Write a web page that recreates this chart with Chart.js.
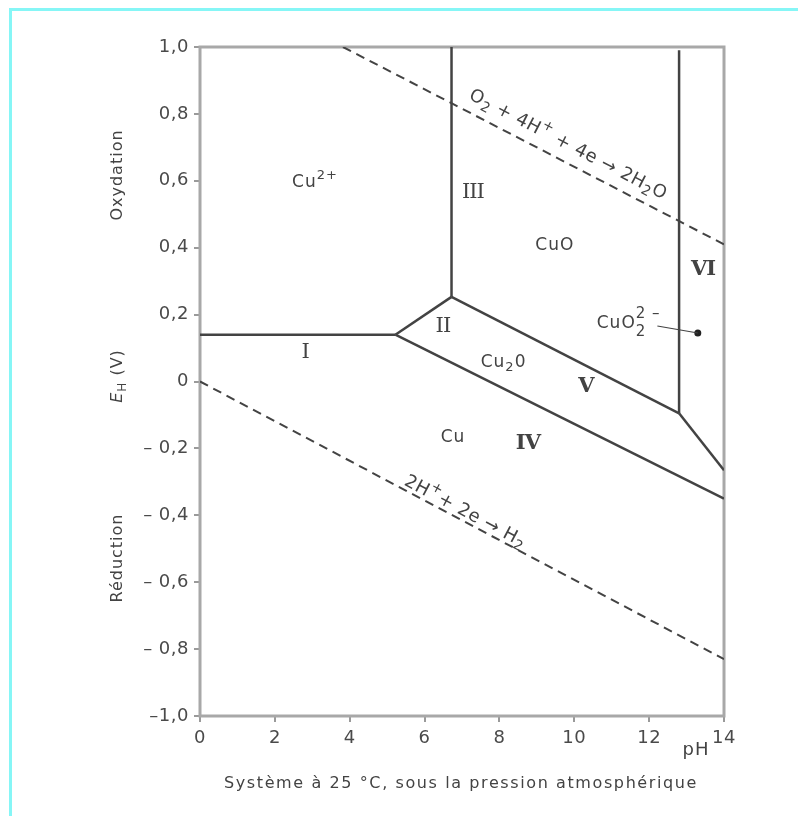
<!DOCTYPE html>
<html>
<head>
<meta charset="utf-8">
<script src="https://cdn.jsdelivr.net/npm/chart.js@4.4.0/dist/chart.umd.min.js"></script>
<style>
  html, body { margin: 0; padding: 0; background: #fff; }
  canvas { display: block; }
</style>
</head>
<body>
<canvas id="pourbaix" width="798" height="816"></canvas>
<script>
// Cu / H2O Pourbaix diagram - points are [pH, E (V)]

const xTicks = [0, 2, 4, 6, 8, 10, 12, 14];
const yTicks = [-1, -0.8, -0.6, -0.4, -0.2, 0, 0.2, 0.4, 0.6, 0.8, 1];
const yTickLabels = ['–1,0', '– 0,8', '– 0,6', '– 0,4', '– 0,2', '0', '0,2', '0,4', '0,6', '0,8', '1,0'];

const lineI = [[0, 0.14], [5.22, 0.14]];
const lineII = [[5.22, 0.14], [6.72, 0.253]];
const lineIII = [[6.72, 0.253], [6.72, 1.0]];
const lineIV = [[5.22, 0.14], [14, -0.35]];
const lineV = [[6.72, 0.253], [12.8, -0.095]];
const lineVI = [[12.8, -0.095], [12.8, 0.99]];
const lineVIlow = [[12.8, -0.095], [14, -0.265]];
const oxygenLine = [[3.82, 1.0], [14, 0.41]];
const hydrogenLine = [[0, 0], [14, -0.83]];
const cuo2Point = [[13.3, 0.145]];
const cuo2Leader = [[12.22, 0.166], [13.3, 0.145]];

// text annotations, placed in data coordinates
const speciesLabels = [
    { parts: [['Cu'], ['2+', 'sup']], at: [2.46, 0.596], align: 'left' },
    { parts: [['CuO']], at: [9.48, 0.405] },
    { parts: [['Cu'], ['2', 'sub'], ['0']], at: [7.5, 0.058], align: 'left' },
    { parts: [['Cu']], at: [6.76, -0.169] }
];
const romanLabels = [
    { text: 'I', at: [2.81, 0.088], bold: false },
    { text: 'II', at: [6.49, 0.163], bold: false },
    { text: 'III', at: [7.29, 0.564], bold: false },
    { text: 'IV', at: [8.76, -0.184], bold: true },
    { text: 'V', at: [10.31, -0.016], bold: true },
    { text: 'VI', at: [13.44, 0.336], bold: true }
];

const INK = '#434343';
const FONT = '"DejaVu Sans", sans-serif';

function toXY(pts) {
    return pts.map(p => ({ x: p[0], y: p[1] }));
}

function boundary(pts) {
    return {
        data: toXY(pts), showLine: true, pointRadius: 0,
        borderColor: INK, borderWidth: 2.5
    };
}

function dashed(pts) {
    return {
        data: toXY(pts), showLine: true, pointRadius: 0,
        borderColor: INK, borderWidth: 2, borderDash: [9, 6]
    };
}

// draw text made of pieces, some as subscript / superscript
function drawRich(ctx, parts, x, y, size, align) {
    const small = Math.round(size * 0.75);
    const fontOf = (m, st) => (st === 'i' ? 'italic ' : '') + (m ? small : size) + 'px ' + FONT;
    const widths = parts.map(([t, m, st]) => {
        ctx.font = fontOf(m, st);
        return ctx.measureText(t).width;
    });
    const total = widths.reduce((a, b) => a + b, 0);
    let cx = align === 'left' ? x : x - total / 2;
    ctx.textAlign = 'left';
    ctx.textBaseline = 'middle';
    parts.forEach(([t, m, st], i) => {
        ctx.font = fontOf(m, st);
        const dy = m === 'sub' ? size * 0.3 : m === 'sup' ? -size * 0.4 : 0;
        ctx.fillText(t, cx, y + dy);
        cx += widths[i];
    });
}

const decor = {
    id: 'decor',
    beforeDraw(chart) {
        chart.ctx.letterSpacing = '0.5px';
    },
    beforeDatasetsDraw(chart) {
        const { ctx, chartArea: a } = chart;
        ctx.save();
        ctx.strokeStyle = '#a8a8a8';
        ctx.lineWidth = 3;
        ctx.strokeRect(a.left, a.top, a.right - a.left, a.bottom - a.top);
        ctx.restore();
    },
    afterDraw(chart) {
        const { ctx } = chart;
        const xs = chart.scales.x, ys = chart.scales.y;
        const px = p => [xs.getPixelForValue(p[0]), ys.getPixelForValue(p[1])];

        ctx.save();
        ctx.letterSpacing = '1px';
        ctx.fillStyle = INK;

        // page border
        ctx.strokeStyle = '#86f6f6';
        ctx.lineWidth = 3;
        ctx.strokeRect(10.5, 9.5, 900, 900);

        // species
        speciesLabels.forEach(l => {
            const [x, y] = px(l.at);
            drawRich(ctx, l.parts, x, y, 17, l.align);
        });

        // CuO2 2- with stacked indices
        {
            const [x, y] = px([10.6, 0.172]);
            ctx.font = '17px ' + FONT;
            ctx.textAlign = 'left';
            ctx.textBaseline = 'middle';
            ctx.fillText('CuO', x, y);
            const w = ctx.measureText('CuO').width;
            ctx.font = '15px ' + FONT;
            ctx.fillText('2', x + w, y + 8);
            ctx.fillText('2 –', x + w, y - 10);
        }

        // roman numerals
        ctx.letterSpacing = '-1px';
        ctx.textAlign = 'center';
        ctx.textBaseline = 'middle';
        romanLabels.forEach(l => {
            const [x, y] = px(l.at);
            ctx.font = (l.bold ? 'bold ' : '') + '21px "DejaVu Serif", serif';
            ctx.fillText(l.text, x, y);
        });
        ctx.letterSpacing = '0.5px';

        // reactions along the dashed lines
        const along = (line, at, parts) => {
            const p0 = px(line[0]), p1 = px(line[1]);
            const ang = Math.atan2(p1[1] - p0[1], p1[0] - p0[0]);
            const [x, y] = px(at);
            ctx.save();
            ctx.translate(x, y);
            ctx.rotate(ang);
            drawRich(ctx, parts, 0, 0, 18, 'center');
            ctx.restore();
        };
        along(oxygenLine, [9.83, 0.707],
            [['O'], ['2', 'sub'], [' + 4H'], ['+', 'sup'], [' + 4e → 2H'], ['2', 'sub'], ['O']]);
        along(hydrogenLine, [7.08, -0.39],
            [['2H'], ['+', 'sup'], ['+ 2e → H'], ['2', 'sub']]);

        // axis titles
        ctx.letterSpacing = '1px';
        const vertical = (parts, x, y) => {
            ctx.save();
            ctx.translate(x, y);
            ctx.rotate(-Math.PI / 2);
            drawRich(ctx, parts, 0, 0, 16, 'center');
            ctx.restore();
        };
        vertical([['Oxydation']], 118, 175);
        vertical([['E', null, 'i'], ['H', 'sub'], [' (V)']], 118, 376);
        vertical([['Réduction']], 118, 558);

        ctx.font = '18px ' + FONT;
        ctx.textAlign = 'center';
        ctx.fillText('pH', 696, 750);
        ctx.font = '16px ' + FONT;
        ctx.letterSpacing = '1.6px';
        ctx.fillText('Système à 25 °C, sous la pression atmosphérique', 461, 784);
        ctx.restore();
    }
};

new Chart(document.getElementById('pourbaix'), {
    type: 'scatter',
    data: {
        datasets: [
            boundary(lineI), boundary(lineII), boundary(lineIII),
            boundary(lineIV), boundary(lineV), boundary(lineVI), boundary(lineVIlow),
            dashed(oxygenLine), dashed(hydrogenLine),
            { data: toXY(cuo2Leader), showLine: true, pointRadius: 0, borderColor: INK, borderWidth: 1.2 },
            { data: toXY(cuo2Point), pointRadius: 3.5, backgroundColor: '#222', borderWidth: 0 }
        ]
    },
    options: {
        responsive: false,
        animation: false,
        layout: { padding: { left: 0, top: 47, right: 74, bottom: 50 } },
        plugins: { legend: { display: false }, tooltip: { enabled: false } },
        scales: {
            x: {
                type: 'linear', min: 0, max: 14,
                afterBuildTicks: s => { s.ticks = xTicks.map(v => ({ value: v })); },
                afterFit: s => { s.height = 50; },
                border: { display: false },
                grid: { drawOnChartArea: false, tickLength: 6, color: '#9a9a9a', lineWidth: 2 },
                ticks: { color: '#4a4a4a', font: { family: 'DejaVu Sans', size: 18 }, padding: 6, maxRotation: 0 }
            },
            y: {
                type: 'linear', min: -1, max: 1,
                afterBuildTicks: s => { s.ticks = yTicks.map(v => ({ value: v })); },
                afterFit: s => { s.width = 200; },
                border: { display: false },
                grid: { drawOnChartArea: false, tickLength: 6, color: '#9a9a9a', lineWidth: 2 },
                ticks: {
                    color: '#4a4a4a', font: { family: 'DejaVu Sans', size: 18 }, padding: 5,
                    callback: (v, i) => yTickLabels[i]
                }
            }
        }
    },
    plugins: [decor]
});
</script>
</body>
</html>
